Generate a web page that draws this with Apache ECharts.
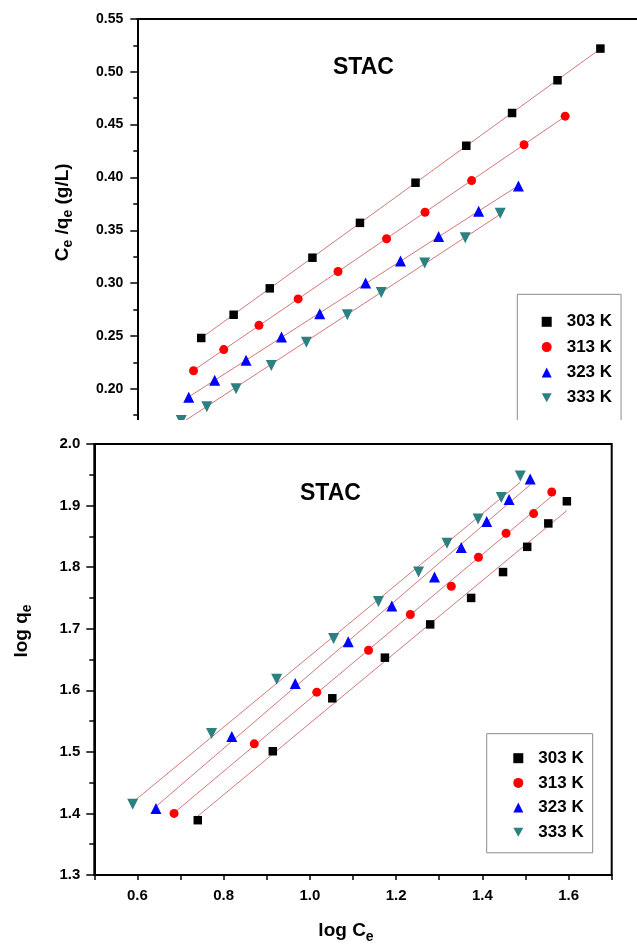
<!DOCTYPE html>
<html><head><meta charset="utf-8">
<script src="https://cdn.jsdelivr.net/npm/echarts@6/dist/echarts.min.js"></script>
<style>html,body{margin:0;padding:0;background:#fff}#c{width:637px;height:951px}</style>
</head><body><div id="c"></div>
<script>
// ---- Top chart (Langmuir): Ce (hidden axis) vs Ce/qe ----
const ce303 = [5.50, 8.29, 11.40, 15.07, 19.16, 23.94, 28.31, 32.25, 36.16, 39.85];
const cq303 = [0.248, 0.270, 0.295, 0.324, 0.357, 0.395, 0.430, 0.461, 0.492, 0.522];
const ce313 = [4.84, 7.44, 10.47, 13.84, 17.27, 21.45, 24.76, 28.77, 33.28, 36.82];
const cq313 = [0.217, 0.237, 0.260, 0.285, 0.311, 0.342, 0.367, 0.397, 0.431, 0.458];
const ce323 = [4.43, 6.66, 9.36, 12.41, 15.70, 19.65, 22.65, 25.93, 29.37, 32.80];
const cq323 = [0.192, 0.208, 0.227, 0.249, 0.271, 0.300, 0.321, 0.344, 0.368, 0.392];
const ce333 = [3.78, 5.98, 8.50, 11.53, 14.55, 18.07, 20.99, 24.73, 28.22, 31.23];
const cq333 = [0.170, 0.183, 0.200, 0.222, 0.244, 0.270, 0.291, 0.319, 0.343, 0.366];

// ---- Bottom chart (Freundlich): log Ce vs log qe ----
const lc303 = [0.740, 0.914, 1.052, 1.174, 1.279, 1.374, 1.448, 1.504, 1.553, 1.596];
const lq303 = [1.389, 1.501, 1.587, 1.653, 1.707, 1.750, 1.792, 1.833, 1.871, 1.907];
const lc313 = [0.685, 0.871, 1.016, 1.136, 1.233, 1.328, 1.391, 1.455, 1.519, 1.561];
const lq313 = [1.400, 1.513, 1.597, 1.665, 1.723, 1.769, 1.816, 1.855, 1.887, 1.922];
const lc323 = [0.643, 0.819, 0.966, 1.089, 1.190, 1.289, 1.351, 1.410, 1.462, 1.511];
const lq323 = [1.408, 1.525, 1.611, 1.679, 1.737, 1.784, 1.832, 1.874, 1.910, 1.943];
const lc333 = [0.589, 0.772, 0.923, 1.055, 1.159, 1.252, 1.318, 1.390, 1.444, 1.488];
const lq333 = [1.415, 1.530, 1.618, 1.684, 1.744, 1.792, 1.839, 1.878, 1.913, 1.948];

const seriesNames = ['303 K', '313 K', '323 K', '333 K'];
const topTicksY = {min: 0.15, max: 0.55, interval: 0.05};
const topRangeX = {min: 0, max: 43};
const botTicksX = {min: 0.5, max: 1.7, interval: 0.1};
const botTicksY = {min: 1.3, max: 2.0, interval: 0.1};

const colors = ['#000000', '#ff0000', '#0000ff', '#2b8080'];
const symbols = ['rect', 'circle', 'triangle', 'path://M0,0 L10,0 L5,9 Z'];
const symSizes = [8.5, 9, 11, 11];
const fitColor = '#d27878';
const FONT = 'Arial, "Liberation Sans", sans-serif';

function zip(a, b) { return a.map((v, i) => [v, b[i]]); }
function fit(xs, ys) {
  const n = xs.length;
  const mx = xs.reduce((s, v) => s + v, 0) / n, my = ys.reduce((s, v) => s + v, 0) / n;
  let sxy = 0, sxx = 0;
  for (let i = 0; i < n; i++) { sxy += (xs[i] - mx) * (ys[i] - my); sxx += (xs[i] - mx) ** 2; }
  const k = sxy / sxx, b = my - k * mx;
  const x0 = Math.min(...xs), x1 = Math.max(...xs);
  return [[x0, k * x0 + b], [x1, k * x1 + b]];
}

const topX = [ce303, ce313, ce323, ce333], topY = [cq303, cq313, cq323, cq333];
const botX = [lc303, lc313, lc323, lc333], botY = [lq303, lq313, lq323, lq333];

// top chart: xAxis 0 / yAxis 0 ; bottom chart: xAxis 2 / yAxis 1
const series = [];
[[topX, topY, 0, 0], [botX, botY, 2, 1]].forEach(([XS, YS, xi, yi]) => {
  XS.forEach((xs, i) => {
    series.push({
      type: 'line', name: 'fit' + yi + i, xAxisIndex: xi, yAxisIndex: yi,
      data: fit(xs, YS[i]), symbol: 'none', silent: true, z: 2,
      lineStyle: {color: fitColor, width: 1}
    });
  });
  XS.forEach((xs, i) => {
    series.push({
      type: 'scatter', name: seriesNames[i], xAxisIndex: xi, yAxisIndex: yi,
      data: zip(xs, YS[i]), symbol: symbols[i], symbolSize: symSizes[i],
      itemStyle: {color: colors[i], opacity: 1}, z: 3
    });
  });
});

const labelStyle = (fs) => ({color: '#000', fontFamily: FONT, fontWeight: 'bold', fontSize: fs});
const nameStyle = (pad, subPad) => ({color: '#000', fontFamily: FONT, fontWeight: 'bold', fontSize: 19, padding: pad,
  rich: {s: {fontFamily: FONT, fontWeight: 'bold', fontSize: 14, padding: [subPad, 0, 0, 0]}}});
const legendBase = {
  orient: 'vertical', data: seriesNames, borderColor: '#8a8a8a', borderWidth: 1,
  backgroundColor: '#fff', itemWidth: 10, itemHeight: 10, selectedMode: false
};
const legendText = (fs) => ({color: '#000', fontFamily: FONT, fontWeight: 'bold', fontSize: fs, lineHeight: 17, padding: [0, 0, 0, 10]});

const option = {
  animation: false,
  backgroundColor: '#fff',
  grid: [
    {left: 137.3, top: 19, right: 0, height: 422.5, show: false},
    {left: 94.3, top: 444, width: 517.4, height: 431, show: true, borderColor: '#000', borderWidth: 2, backgroundColor: 'transparent'}
  ],
  xAxis: [
    {gridIndex: 0, type: 'value', min: topRangeX.min, max: topRangeX.max, show: false},
    {gridIndex: 0, type: 'value', position: 'top', min: topRangeX.min, max: topRangeX.max,
      axisLine: {show: true, lineStyle: {color: '#000', width: 2}}, axisTick: {show: false},
      axisLabel: {show: false}, splitLine: {show: false}},
    {gridIndex: 1, type: 'value', z: 101, min: botTicksX.min, max: botTicksX.max, interval: botTicksX.interval,
      axisLine: {lineStyle: {color: '#000', width: 2}},
      axisTick: {inside: false, length: 5, lineStyle: {color: '#000', width: 1.5}},
      splitLine: {show: false},
      axisLabel: Object.assign(labelStyle(15), {margin: 13,
        formatter: v => (Math.round(v * 10) % 2 === 0 && v > 0.55 && v < 1.65) ? v.toFixed(1) : ''}),
      name: 'log C{s|e}', nameLocation: 'middle', nameGap: 43,
      nameTextStyle: nameStyle([0, 14, 0, 0], 12)
    }
  ],
  yAxis: [
    {gridIndex: 0, type: 'value', min: topTicksY.min, max: topTicksY.max, interval: topTicksY.interval,
      axisLine: {lineStyle: {color: '#000', width: 2}},
      axisTick: {length: 7, lineStyle: {color: '#000', width: 1.5}},
      minorTick: {show: true, splitNumber: 2, length: 4, lineStyle: {color: '#000', width: 1.5}},
      splitLine: {show: false}, minorSplitLine: {show: false},
      axisLabel: Object.assign(labelStyle(14), {margin: 14, showMinLabel: false, formatter: v => v.toFixed(2)}),
      name: 'C{s|e} /q{s|e} (g/L)', nameLocation: 'middle', nameGap: 62,
      nameTextStyle: nameStyle([0, 0, 0, 36], 11)
    },
    {gridIndex: 1, type: 'value', z: 101, min: botTicksY.min, max: botTicksY.max, interval: botTicksY.interval,
      axisLine: {lineStyle: {color: '#000', width: 2}},
      axisTick: {length: 8, lineStyle: {color: '#000', width: 1.5}},
      minorTick: {show: true, splitNumber: 2, length: 5, lineStyle: {color: '#000', width: 1.5}},
      splitLine: {show: false}, minorSplitLine: {show: false},
      axisLabel: Object.assign(labelStyle(15), {margin: 14, formatter: v => v.toFixed(1)}),
      name: 'log q{s|e}', nameLocation: 'middle', nameGap: 60,
      nameTextStyle: nameStyle([0, 0, 0, 57], 11)
    }
  ],
  legend: [
    Object.assign({}, legendBase, {left: 517.3, top: 294.3, padding: [19, 9, 20, 24.4], itemGap: 8.3, textStyle: legendText(17)}),
    Object.assign({}, legendBase, {left: 486.7, top: 733.7, padding: [16, 9, 12, 26.6], itemGap: 7.7, textStyle: legendText(17)})
  ],
  graphic: [
    {type: 'text', left: 333, top: 56, z: 10, style: {text: 'STAC', fill: '#000', font: 'bold 23px ' + FONT}},
    {type: 'text', left: 300, top: 482, z: 10, style: {text: 'STAC', fill: '#000', font: 'bold 23px ' + FONT}},
    {type: 'rect', z: 100, shape: {x: 0, y: 420, width: 637, height: 23}, style: {fill: '#fff'}}
  ],
  series: series
};
const chart = echarts.init(document.getElementById('c'), null, {renderer: 'canvas'});
chart.setOption(option);
</script>
</body></html>
